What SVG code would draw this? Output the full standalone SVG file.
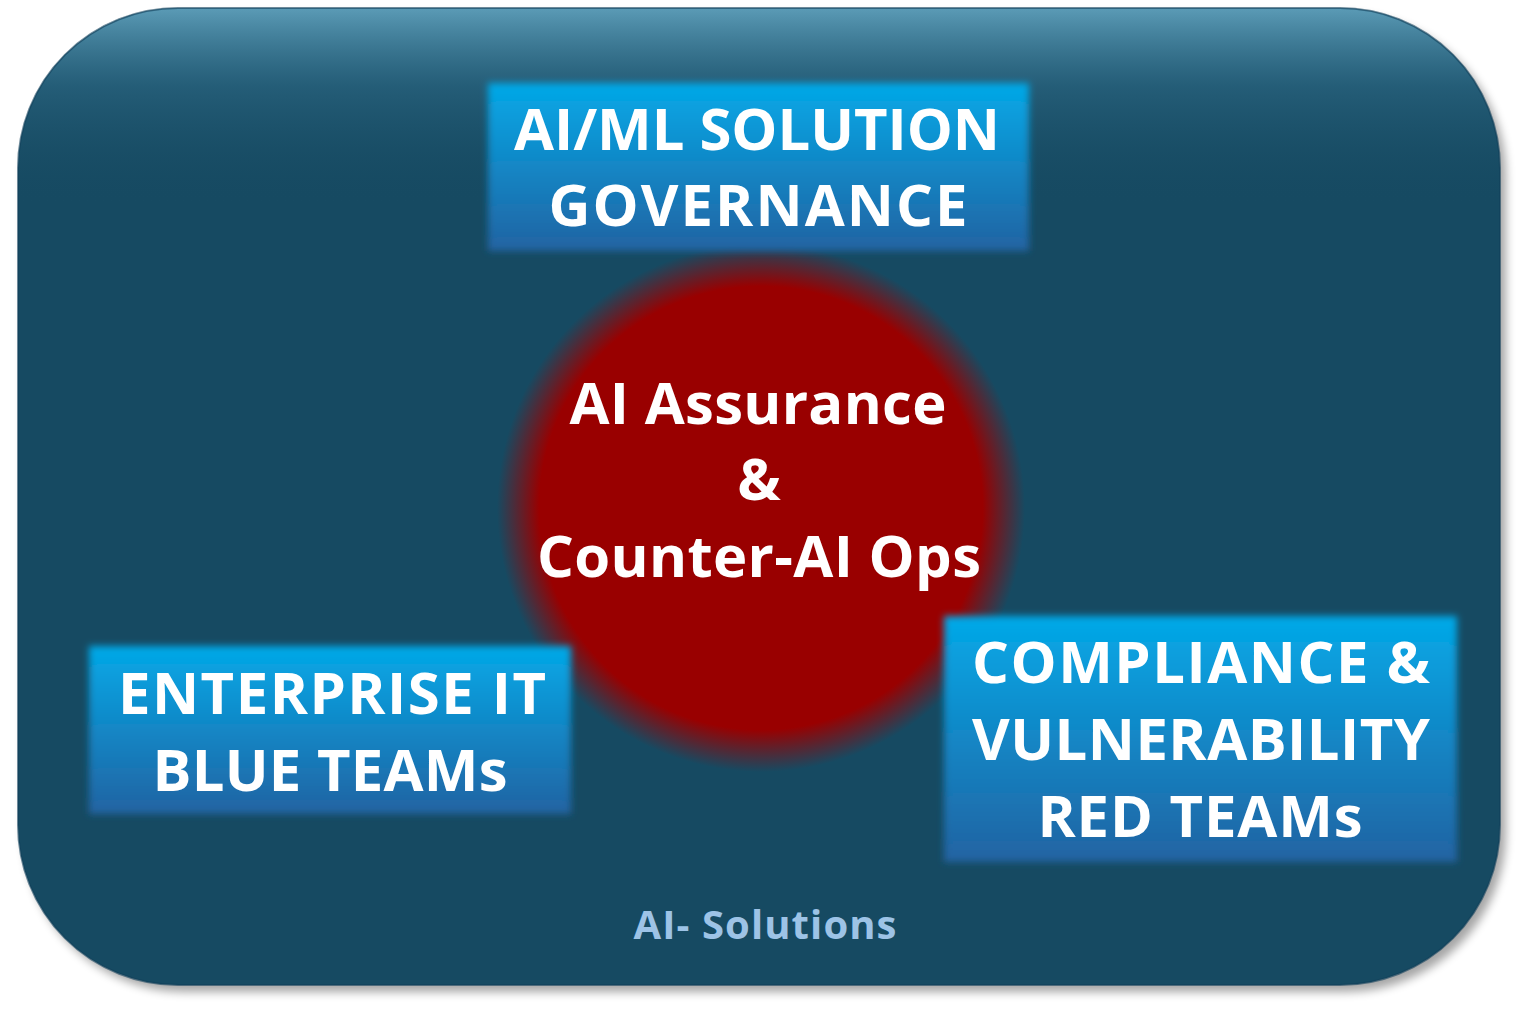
<svg xmlns="http://www.w3.org/2000/svg" width="1518" height="1014" viewBox="0 0 1518 1014">
<style>
.t{font-family:"Open Sans","Liberation Sans",sans-serif;font-weight:bold;fill:#ffffff;text-anchor:middle}
.big{font-size:58px}
.sub{font-size:40px;fill:#9dc3e6}
</style>
<defs>
<linearGradient id="boxg" x1="0" y1="0" x2="0" y2="1">
<stop offset="0" stop-color="#03a9e8"/>
<stop offset="1" stop-color="#2263a2"/>
</linearGradient>
<linearGradient id="topHi" x1="0" y1="0" x2="0" y2="1">
<stop offset="0" stop-color="#5b9bb6"/>
<stop offset="0.08" stop-color="#2e6a86" stop-opacity="0.6"/>
<stop offset="0.2" stop-color="#164a62" stop-opacity="0"/>
</linearGradient>
<radialGradient id="redg" cx="0.5" cy="0.5" r="0.5">
<stop offset="0.84" stop-color="#990000"/>
<stop offset="1" stop-color="#990000" stop-opacity="0"/>
</radialGradient>
<filter id="soft" x="-10%" y="-10%" width="120%" height="120%">
<feGaussianBlur stdDeviation="3.5"/>
</filter>
<filter id="shadow" x="-5%" y="-5%" width="112%" height="115%">
<feGaussianBlur stdDeviation="5"/>
</filter>
</defs>
<rect width="1518" height="1014" fill="#ffffff"/>
<g id="background">
<rect x="24" y="15" width="1482" height="977" rx="160" fill="#000" opacity="0.35" filter="url(#shadow)"/>
<rect x="18" y="8" width="1482" height="977" rx="160" fill="#164a62"/>
<rect x="18" y="8" width="1482" height="977" rx="160" fill="url(#topHi)"/>
<rect x="18" y="8" width="1482" height="977" rx="160" fill="none" stroke="#10405a" stroke-width="2" opacity="0.6"/>
</g>
<g id="center">
<circle cx="761" cy="508" r="264" fill="url(#redg)"/>
<text class="t big" x="758" y="424" textLength="377">AI Assurance</text>
<text class="t big" x="759" y="500">&amp;</text>
<text class="t big" x="759" y="577" textLength="444">Counter-AI Ops</text>
</g>
<g id="governance">
<rect x="488" y="83" width="541" height="168" fill="url(#boxg)" filter="url(#soft)"/>
<text class="t big" x="757" y="150" textLength="486">AI/ML SOLUTION</text>
<text class="t big" x="758" y="226" textLength="419">GOVERNANCE</text>
</g>
<g id="blueteams">
<rect x="89" y="646" width="482" height="168" fill="url(#boxg)" filter="url(#soft)"/>
<text class="t big" x="332" y="714" textLength="428">ENTERPRISE IT</text>
<text class="t big" x="330" y="791" textLength="355">BLUE TEAMs</text>
</g>
<g id="redteams">
<rect x="944" y="616" width="513" height="246" fill="url(#boxg)" filter="url(#soft)"/>
<text class="t big" x="1201" y="683" textLength="458">COMPLIANCE &amp;</text>
<text class="t big" x="1201" y="760" textLength="458">VULNERABILITY</text>
<text class="t big" x="1200" y="837" textLength="325">RED TEAMs</text>
</g>
<g id="connectors"/>
<text class="t sub" x="765" y="939" textLength="263">AI- Solutions</text>
</svg>
